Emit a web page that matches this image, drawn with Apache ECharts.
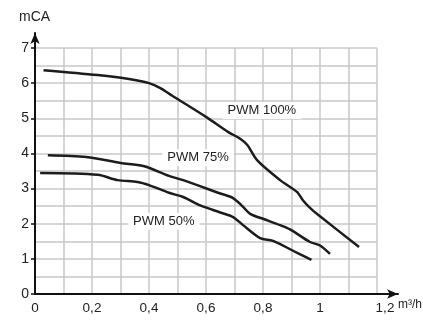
<!DOCTYPE html>
<html><head><meta charset="utf-8">
<script src="https://cdn.jsdelivr.net/npm/echarts@6/dist/echarts.min.js"></script>
<style>html,body{margin:0;padding:0;background:#fff}#c{width:423px;height:323px}</style>
</head><body><div id="c"></div>
<script>
var xTicks = [0, 0.2, 0.4, 0.6, 0.8, 1, 1.2];
var yTicks = [0, 1, 2, 3, 4, 5, 6, 7];
var seriesNames = ['PWM 100%', 'PWM 75%', 'PWM 50%'];
var pwm100X = [0.03,0.22,0.33,0.40,0.44,0.48,0.60,0.68,0.72,0.745,0.78,0.86,0.92,0.94,0.965,1.0,1.137];
var pwm100Y = [6.37,6.23,6.12,6.0,5.86,5.65,5.04,4.6,4.42,4.24,3.80,3.24,2.90,2.67,2.45,2.21,1.34];
var pwm75X = [0.045,0.18,0.30,0.38,0.47,0.52,0.65,0.695,0.73,0.755,0.80,0.86,0.895,0.965,1.0,1.035];
var pwm75Y = [3.95,3.90,3.73,3.64,3.36,3.24,2.86,2.73,2.48,2.28,2.14,1.96,1.84,1.48,1.38,1.14];
var pwm50X = [0.018,0.22,0.29,0.36,0.40,0.47,0.52,0.58,0.65,0.695,0.73,0.79,0.835,0.92,0.97];
var pwm50Y = [3.44,3.39,3.24,3.19,3.10,2.88,2.76,2.52,2.32,2.19,1.96,1.59,1.51,1.17,0.97];
var labelPos = [[0.796, 5.22], [0.572, 3.88], [0.452, 2.07]];

function pairs(xs, ys){ return xs.map(function(x,i){ return [x, ys[i]]; }); }
var font = 'Liberation Sans, Arial, sans-serif';
var chart = echarts.init(document.getElementById('c'), null, {renderer:'canvas'});
var lineStyle = {color:'#1c1c1c', width:2.5};
function mk(name, data, pos){
  return {
    type:'line', name:name, data:data, xAxisIndex:0, yAxisIndex:0,
    smooth:0.3, showSymbol:false, symbol:'none', lineStyle:lineStyle, z:5,
    markPoint:{
      symbol:'rect', symbolSize:1, itemStyle:{color:'rgba(0,0,0,0)'},
      data:[{coord:pos, value:name}],
      label:{show:true, position:'inside', formatter:name, color:'#222',
        fontFamily:font, fontSize:13, backgroundColor:'#fff', padding:[2,5]},
      z:4
    }
  };
}
chart.setOption({
  animation:false,
  grid:[
    {left:35, right:46, top:48, bottom:29},
    {left:35, right:25, top:33, bottom:29}
  ],
  xAxis:[
    {type:'value', gridIndex:0, min:0, max:1.2, interval:0.2,
      axisLine:{show:false}, axisTick:{show:false},
      axisLabel:{color:'#222', fontFamily:font, fontSize:13.5, margin:7,
        formatter:function(v){
          var s = String(Math.round(v*10)/10).replace('.', ',');
          return v > 1.15 ? '{r|' + s + '}' : s;
        },
        rich:{r:{color:'#222', fontFamily:font, fontSize:13.5, padding:[0,0,0,16]}}},
      splitLine:{show:true, lineStyle:{color:'#c8c8c8', width:1.5}},
      minorTick:{show:false, splitNumber:2},
      minorSplitLine:{show:true, lineStyle:{color:'#c8c8c8', width:1.5}}},
    {type:'value', gridIndex:1, min:0, max:1, show:true,
      axisLine:{show:true, symbol:['none','arrow'], symbolSize:[7,11], lineStyle:{color:'#111', width:2}},
      axisTick:{show:false}, axisLabel:{show:false}, splitLine:{show:false}}
  ],
  yAxis:[
    {type:'value', gridIndex:0, min:0, max:7, interval:1,
      axisLine:{show:false},
      axisTick:{show:true, length:4, lineStyle:{color:'#111', width:1.5}},
      axisLabel:{color:'#222', fontFamily:font, fontSize:14, margin:6},
      splitLine:{show:true, lineStyle:{color:'#c8c8c8', width:1.5}},
      minorTick:{show:false, splitNumber:2},
      minorSplitLine:{show:true, lineStyle:{color:'#c8c8c8', width:1.5}}},
    {type:'value', gridIndex:1, min:0, max:1, show:true,
      axisLine:{show:true, symbol:['none','arrow'], symbolSize:[7,11], lineStyle:{color:'#111', width:2}},
      axisTick:{show:false}, axisLabel:{show:false}, splitLine:{show:false}}
  ],
  graphic:[
    {type:'text', left:19, top:10, style:{text:'mCA', font:'14px '+font, fill:'#222'}},
    {type:'text', left:398, top:299, style:{text:'m³/h', font:'12px '+font, fill:'#222'}}
  ],
  series:[
    mk(seriesNames[0], pairs(pwm100X, pwm100Y), labelPos[0]),
    mk(seriesNames[1], pairs(pwm75X, pwm75Y), labelPos[1]),
    mk(seriesNames[2], pairs(pwm50X, pwm50Y), labelPos[2])
  ]
});
</script></body></html>
